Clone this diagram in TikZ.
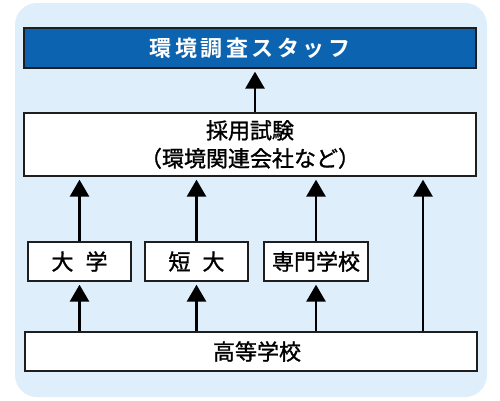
\documentclass[tikz,border=0pt]{standalone}
\usepackage{fontspec}
\setmainfont{Noto Sans CJK JP}[BoldFont={Noto Sans CJK JP Bold}]
\newfontfamily\jpmed{Noto Sans CJK JP}[FakeBold=1.2]
\usetikzlibrary{arrows.meta}
\definecolor{bgblue}{RGB}{222,238,251}
\definecolor{titleblue}{RGB}{12,100,176}
\definecolor{boxline}{RGB}{30,30,30}
\newcommand{\tsp}{\hspace{3.5pt}}
\tikzset{
  box/.style={draw=boxline, line width=1.3pt, fill=white, inner sep=0pt, align=center, font=\jpmed\fontsize{22}{28}\selectfont},
  titlebox/.style={draw=boxline, line width=1.3pt, inner sep=0pt, fill=titleblue, text=white, font=\fontsize{22}{24}\selectfont\bfseries},
  arr/.style={line width=2.8pt, -{Triangle[length=17pt,width=19pt]}, shorten >=3pt}
}
\begin{document}
\begin{tikzpicture}[x=1pt,y=-1pt]
\useasboundingbox (0,0) rectangle (500,400);
\fill[bgblue, rounded corners=22pt] (15,3) rectangle (487,397);
\node[titlebox, minimum width=452pt, minimum height=40pt] (title) at (250,48) {環\tsp 境\tsp 調\tsp 査\tsp ス\tsp タ\tsp ッ\tsp フ};
\node[box, minimum width=452pt, minimum height=63pt] (saiyo) at (250,144.5) {採用試験\\（環境関連会社など）};
\node[box, minimum width=103pt, minimum height=39pt] (dai) at (79.5,261.5) {大\hspace{12pt}学};
\node[box, minimum width=103pt, minimum height=39pt] (tan) at (196.5,261.5) {短\hspace{12pt}大};
\node[box, minimum width=104pt, minimum height=39pt] (sen) at (316,261.5) {専門学校};
\node[box, minimum width=452pt, minimum height=39pt] (kou) at (251,351.5) {\hspace*{12pt}高等学校};
\coordinate (rt) at (423,0);
\coordinate (tt) at (255,0);
\draw[arr] (saiyo.north -| tt) -- (title.south -| tt);
\draw[arr] (dai.north) -- (saiyo.south -| dai.north);
\draw[arr] (tan.north) -- (saiyo.south -| tan.north);
\draw[arr] (sen.north) -- (saiyo.south -| sen.north);
\draw[arr] (kou.north -| dai.south) -- (dai.south);
\draw[arr] (kou.north -| tan.south) -- (tan.south);
\draw[arr] (kou.north -| sen.south) -- (sen.south);
\draw[arr] (kou.north -| rt) -- (saiyo.south -| rt);
\end{tikzpicture}
\end{document}
